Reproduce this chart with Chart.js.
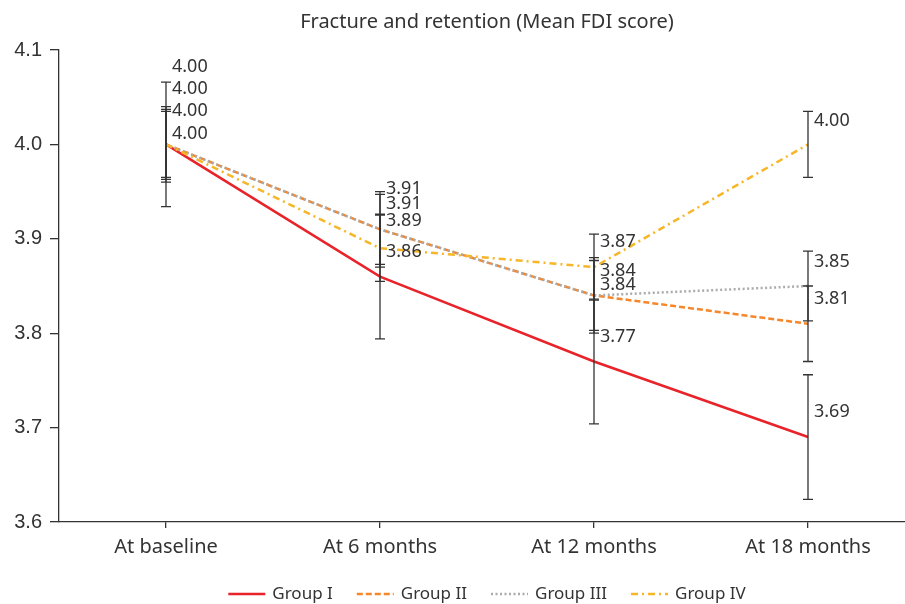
<!DOCTYPE html>
<html>
<head>
<meta charset="utf-8">
<script src="https://cdn.jsdelivr.net/npm/chart.js@4.4.0/dist/chart.umd.min.js"></script>
<style>
  html, body { margin: 0; padding: 0; background: #fff; overflow: hidden; }
  #wrap { width: 915px; height: 604px; }
</style>
</head>
<body>
<div id="wrap"><canvas id="myChart" width="915" height="604"></canvas></div>
<script>
// data
const timePoints = ['At baseline', 'At 6 months', 'At 12 months', 'At 18 months'];
const groupNames = ['Group I', 'Group II', 'Group III', 'Group IV'];
const groupI   = [4.00, 3.86, 3.77, 3.69];
const groupII  = [4.00, 3.91, 3.84, 3.81];
const groupIII = [4.00, 3.91, 3.84, 3.85];
const groupIV  = [4.00, 3.89, 3.87, 4.00];
// error bar half-widths (SD)
const sdI   = [0.066, 0.066, 0.066, 0.066];
const sdII  = [0.040, 0.040, 0.040, 0.040];
const sdIII = [0.037, 0.037, 0.037, 0.037];
const sdIV  = [0.035, 0.035, 0.035, 0.035];
const yTicks = [3.6, 3.7, 3.8, 3.9, 4.0, 4.1];
const chartTitle = 'Fracture and retention (Mean FDI score)';

// styling
const colors = ['#E8232A', '#F5862A', '#ABABAB', '#F6B628'];
const dashes = [[], [6, 3], [2, 2.5], [7, 4, 2, 4]];
// label shift in px above the point (labels were moved by hand in the original)
const labelShift = [
  [-78, -25, -25, -25],
  [-56, -40, -25, -25],
  [-34, -25, -11, -24],
  [-11, -27, -25, -24]
];

const series = [groupI, groupII, groupIII, groupIV];
const sds = [sdI, sdII, sdIII, sdIV];
const textColor = '#333333';
const sansFont = '"Noto Sans", "Open Sans", sans-serif';

const extras = {
  id: 'extras',
  afterDatasetsDraw(chart) {
    const ctx = chart.ctx;
    const xs = chart.scales.x, ys = chart.scales.y;
    ctx.save();
    // error bars
    ctx.strokeStyle = '#333';
    ctx.lineWidth = 1.3;
    ctx.setLineDash([]);
    series.forEach((vals, g) => {
      vals.forEach((v, i) => {
        const x = xs.getPixelForValue(i);
        const top = ys.getPixelForValue(v + sds[g][i]);
        const bot = ys.getPixelForValue(v - sds[g][i]);
        ctx.beginPath();
        ctx.moveTo(x, top); ctx.lineTo(x, bot);
        ctx.moveTo(x - 5, top); ctx.lineTo(x + 5, top);
        ctx.moveTo(x - 5, bot); ctx.lineTo(x + 5, bot);
        ctx.stroke();
      });
    });
    // value labels
    ctx.fillStyle = textColor;
    ctx.font = '18px ' + sansFont;
    ctx.textAlign = 'left';
    ctx.textBaseline = 'middle';
    series.forEach((vals, g) => {
      vals.forEach((v, i) => {
        const x = xs.getPixelForValue(i) + 6;
        const y = ys.getPixelForValue(v) + labelShift[g][i];
        ctx.fillText(v.toFixed(2), x, y);
      });
    });
    ctx.restore();
  },
  afterDraw(chart) {
    const ctx = chart.ctx;
    const area = chart.chartArea;
    const cx = (area.left + area.right) / 2;
    ctx.save();
    // title
    ctx.fillStyle = textColor;
    ctx.font = '20px ' + sansFont;
    ctx.textAlign = 'center';
    ctx.textBaseline = 'middle';
    ctx.fillText(chartTitle, cx, 22);
    // legend
    ctx.font = '17px ' + sansFont;
    const sample = 37, gap = 7, itemGap = 24;
    const widths = groupNames.map(n => sample + gap + ctx.measureText(n).width);
    const total = widths.reduce((a, b) => a + b, 0) + itemGap * (groupNames.length - 1);
    let x = cx - total / 2;
    const y = 594;
    groupNames.forEach((n, g) => {
      ctx.strokeStyle = colors[g];
      ctx.lineWidth = 2.5;
      ctx.setLineDash(dashes[g]);
      ctx.beginPath();
      ctx.moveTo(x, y); ctx.lineTo(x + sample, y);
      ctx.stroke();
      ctx.setLineDash([]);
      ctx.textAlign = 'left';
      ctx.fillText(n, x + sample + gap, y);
      x += widths[g] + itemGap;
    });
    ctx.restore();
  }
};

const ctx = document.getElementById('myChart').getContext('2d');
const myChart = new Chart(ctx, {
  type: 'line',
  data: {
    labels: timePoints,
    datasets: series.map((vals, g) => ({
      label: groupNames[g],
      data: vals,
      borderColor: colors[g],
      backgroundColor: colors[g],
      borderWidth: 2.5,
      borderDash: dashes[g],
      pointRadius: 0,
      tension: 0,
      fill: false,
      order: 4 - g
    }))
  },
  options: {
    responsive: false,
    animation: false,
    devicePixelRatio: 1,
    layout: { padding: { top: 50, left: 0, right: 0, bottom: 42 } },
    plugins: {
      legend: { display: false },
      title: { display: false },
      tooltip: { enabled: false }
    },
    scales: {
      x: {
        offset: true,
        grid: { drawOnChartArea: false, offset: false, tickLength: 6, color: '#333', lineWidth: 1.3 },
        border: { color: '#333', width: 1.3 },
        ticks: { color: textColor, font: { family: sansFont, size: 20 }, padding: 7, maxRotation: 0 },
        afterFit(scale) { scale.height = 40; }
      },
      y: {
        min: 3.6,
        max: 4.1,
        afterBuildTicks(scale) { scale.ticks = yTicks.map(v => ({ value: v })); },
        grid: { drawOnChartArea: false, tickLength: 9, color: '#333', lineWidth: 1.3 },
        border: { color: '#333', width: 1.3 },
        ticks: {
          color: textColor,
          font: { family: '"Liberation Sans", Arial, sans-serif', size: 20 },
          padding: 8,
          callback: v => v.toFixed(1)
        },
        afterFit(scale) { scale.width = 59; }
      }
    }
  },
  plugins: [extras]
});
</script>
</body>
</html>
